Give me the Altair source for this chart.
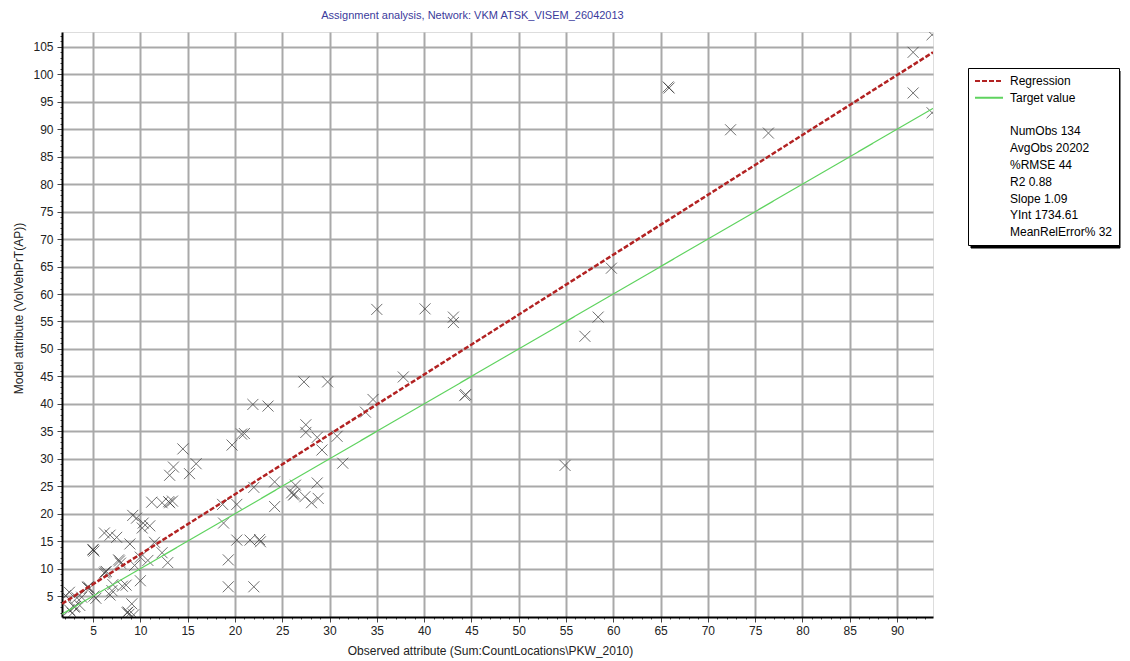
import altair as alt
import pandas as pd

# Observed (x) vs model (y), values in thousands
obs_x = [91.7, 91.7, 93.7, 93.7, 65.8, 65.9, 72.4, 76.4, 59.8, 58.4, 57.0, 54.9,
         44.3, 44.4, 43.1, 43.1, 40.1, 35.0, 37.8, 34.6, 33.8,
         29.8, 27.3, 27.5, 27.5, 28.7, 30.8, 29.2, 31.4,
         26.4, 28.7, 26.0, 26.2, 26.3, 27.4, 28.1, 28.8, 24.2, 24.2, 22.0,
         21.9, 23.5, 19.7, 20.7, 21.0, 20.2, 18.7, 18.8, 20.2, 21.6, 22.7, 22.6, 19.3, 19.3, 22.0,
         14.5, 15.9, 13.5, 13.1, 15.2,
         11.2, 12.3, 13.0, 13.4, 13.1,
         9.2, 9.6, 10.3, 10.2, 11.0,
         6.2, 6.8, 7.5, 8.9, 5.0, 5.1, 5.0,
         11.5, 12.3, 12.9, 10.8, 10.0, 9.4,
         7.8, 7.9, 7.7, 6.3, 6.2, 6.4,
         8.1, 10.0, 7.1, 8.5,
         4.4, 4.6, 4.5, 2.5, 2.1, 3.3, 3.8, 5.1, 5.3, 6.8, 7.0,
         3.6, 3.0, 3.1, 2.5, 2.8, 9.1, 8.6, 8.7, 8.8, 9.3]
model_y = [104.0, 96.6, 107.2, 93.0, 97.7, 97.5, 89.9, 89.3, 64.7, 55.8, 52.3, 28.8,
           41.5, 41.7, 55.8, 54.8, 57.3, 57.2, 44.9, 40.8, 38.5,
           44.0, 44.0, 36.2, 34.8, 33.9, 34.1, 31.6, 29.2,
           25.2, 25.6, 23.8, 23.4, 23.6, 23.1, 22.0, 22.8, 25.8, 21.3, 24.8,
           39.9, 39.6, 32.5, 34.5, 34.6, 21.7, 21.7, 18.3, 15.2, 15.2, 14.9, 15.3, 11.6, 6.7, 6.7,
           31.8, 29.1, 28.5, 27.0, 27.3,
           22.1, 22.0, 22.2, 22.3, 22.0,
           19.7, 19.2, 18.3, 17.4, 17.8,
           16.5, 16.1, 15.7, 14.5, 13.5, 13.2, 13.4,
           14.8, 12.9, 11.1, 11.5, 12.1, 10.6,
           11.4, 11.0, 11.6, 9.4, 9.2, 9.5,
           6.8, 7.8, 7.1, 7.0,
           6.6, 6.4, 6.7, 5.7, 5.1, 4.7, 4.8, 5.0, 4.6, 5.2, 6.0,
           3.3, 3.0, 3.1, 2.5, 1.9, 3.6, 2.0, 2.1, 1.7, 1.6]

# Regression and target lines (endpoints)
line_series = ["Regression", "Regression", "Target value", "Target value"]
line_x = [1.72, 93.8, 1.72, 93.8]
line_y = [3.6, 104.0, 1.72, 93.8]

legend_entries = ["Regression", "Target value", " ", "NumObs 134", "AvgObs 20202",
                  "%RMSE 44", "R2 0.88", "Slope 1.09", "YInt 1734.61", "MeanRelError% 32"]

x_domain = [1.72, 93.8]
y_domain = [1.2, 107.7]

pts = pd.DataFrame({"obs": obs_x, "model": model_y})
lines = pd.DataFrame({"series": line_series, "obs": line_x, "model": line_y})

FONT = "Liberation Sans"


def make_axis(vals, title, **kw):
    return alt.Axis(
        values=vals, tickCount=400, format=".0f",
        labelExpr="datum.value % 5 === 0 ? datum.label : ''",
        tickSize={"condition": {"test": "datum.value % 5 === 0", "value": 5}, "value": 2},
        gridOpacity={"condition": {"test": "datum.value % 5 === 0", "value": 1}, "value": 0},
        gridColor="#a9a9a9", gridWidth=2,
        domainColor="black", domainWidth=2,
        tickColor="#444", labelFont=FONT, labelFontSize=12, labelColor="#222",
        labelOverlap=False, labelFlush=False,
        title=title,
        titleFont=FONT, titleFontSize=12, titleFontWeight="normal", titleColor="#222",
        titleBaseline="middle", **kw,
    )


x_axis = make_axis(list(range(2, 94)),
                   "Observed attribute (Sum:CountLocations\\PKW_2010)",
                   labelPadding=3, titleX=428, titleY=33)
y_axis = make_axis(list(range(2, 108)), "Model attribute (VolVehPrT(AP))",
                   labelPadding=4, titleX=-44, titleY=276)

xs = alt.Scale(domain=x_domain, nice=False, zero=False)
ys = alt.Scale(domain=y_domain, nice=False, zero=False)

legend = alt.Legend(
    orient="none", legendX=906, legendY=36, title=None, direction="vertical", columns=1,
    fillColor="white", strokeColor="black", padding=6,
    symbolType="M-1,0L3.67,0", symbolSize=144, symbolStrokeWidth=2,
    labelFont=FONT, labelFontSize=12, labelColor="black", labelOffset=22,
    rowPadding=3.8, labelLimit=300, zindex=2,
)

color_scale = alt.Scale(domain=legend_entries,
                        range=["#b22222", "#5fd35f"] + ["transparent"] * 8)
dash_scale = alt.Scale(domain=legend_entries,
                       range=[[5, 2], [1, 0]] + [[1, 0]] * 8)

shadow = alt.Chart(pd.DataFrame({"k": [0]})).mark_rect(
    fill="black", stroke="black", strokeWidth=1, opacity=1
).encode(
    x=alt.value(909), x2=alt.value(1058), y=alt.value(39), y2=alt.value(216)
)

points = alt.Chart(pts).mark_point(
    shape="M-1,-1L1,1M-1,1L1,-1", filled=False, stroke="#333", strokeWidth=1,
    size=121, opacity=0.7, clip=True
).encode(
    x=alt.X("obs:Q", scale=xs, axis=x_axis),
    y=alt.Y("model:Q", scale=ys, axis=y_axis),
)

line_layer = alt.Chart(lines).mark_line(clip=True).encode(
    x=alt.X("obs:Q", scale=xs),
    y=alt.Y("model:Q", scale=ys),
    color=alt.Color("series:N", scale=color_scale, legend=legend),
    strokeDash=alt.StrokeDash("series:N", scale=dash_scale, legend=legend),
    strokeWidth=alt.StrokeWidth("series:N", scale=alt.Scale(
        domain=["Regression", "Target value"], range=[2.5, 1.2]), legend=None),
)

chart = alt.layer(points, line_layer, shadow).properties(
    width=871, height=585,
    autosize=alt.AutoSizeParams(type="none"),
    padding={"left": 54, "top": 24, "right": 189, "bottom": 42},
    title=alt.TitleParams(
        "Assignment analysis, Network: VKM ATSK_VISEM_26042013",
        font=FONT, fontSize=11, fontWeight="normal", color="#3b3b9c",
        anchor="middle", dx=-25, offset=12, baseline="bottom", dy=14,
    ),
).configure_view(stroke="#444", strokeWidth=1).configure(background="white")

chart.save("out.html", embed_options={"renderer": "svg", "actions": False})
